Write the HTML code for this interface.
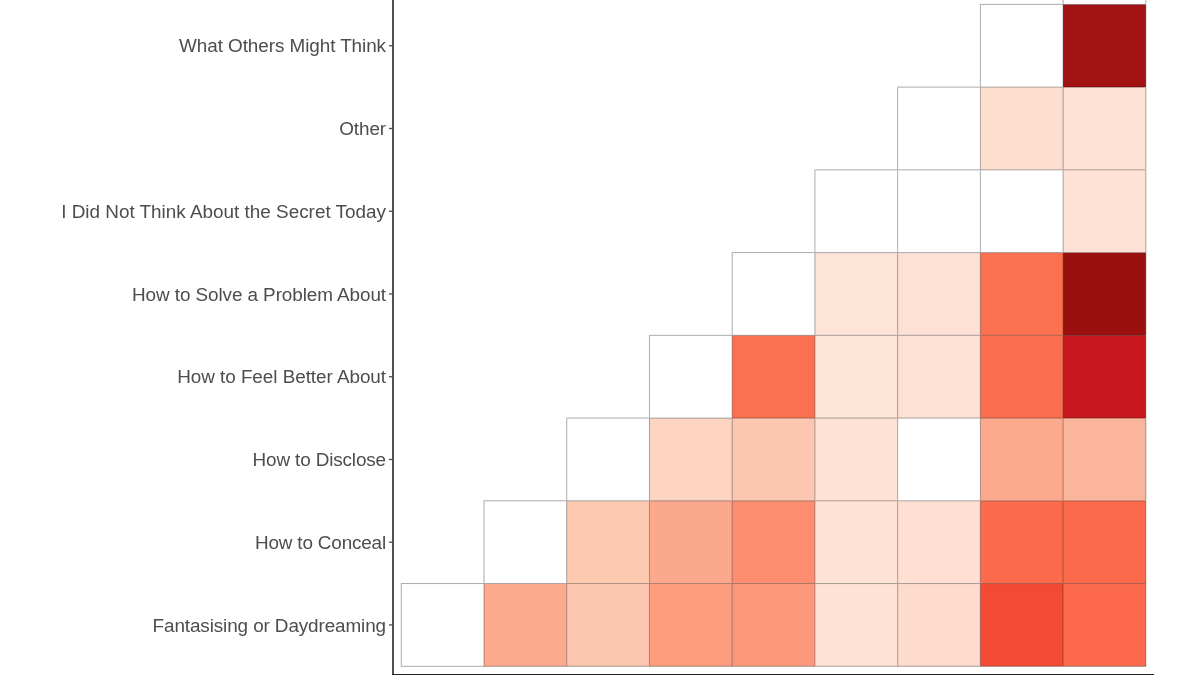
<!DOCTYPE html>
<html><head><meta charset="utf-8"><style>
html,body{margin:0;padding:0;background:#fff;}
body{width:1200px;height:675px;overflow:hidden;position:relative;font-family:"Liberation Sans",sans-serif;}
svg{position:absolute;left:0;top:0;will-change:transform;}
</style></head><body>
<svg width="1200" height="675" viewBox="0 0 1200 675">
<rect x="401.27" y="583.56" width="82.73" height="82.74" fill="#ffffff"/><rect x="484.00" y="583.56" width="82.73" height="82.74" fill="#fca98e"/><rect x="566.73" y="583.56" width="82.73" height="82.74" fill="#fdc6b0"/><rect x="649.46" y="583.56" width="82.73" height="82.74" fill="#fc9d7e"/><rect x="732.19" y="583.56" width="82.73" height="82.74" fill="#fc997a"/><rect x="814.92" y="583.56" width="82.73" height="82.74" fill="#fee2d5"/><rect x="897.65" y="583.56" width="82.73" height="82.74" fill="#fddccb"/><rect x="980.38" y="583.56" width="82.73" height="82.74" fill="#f24a33"/><rect x="1063.11" y="583.56" width="82.73" height="82.74" fill="#fc6a4b"/><rect x="484.00" y="500.82" width="82.73" height="82.74" fill="#ffffff"/><rect x="566.73" y="500.82" width="82.73" height="82.74" fill="#fdcab1"/><rect x="649.46" y="500.82" width="82.73" height="82.74" fill="#fca88c"/><rect x="732.19" y="500.82" width="82.73" height="82.74" fill="#fc8e6f"/><rect x="814.92" y="500.82" width="82.73" height="82.74" fill="#fee2d6"/><rect x="897.65" y="500.82" width="82.73" height="82.74" fill="#fedfd2"/><rect x="980.38" y="500.82" width="82.73" height="82.74" fill="#fb6a4b"/><rect x="1063.11" y="500.82" width="82.73" height="82.74" fill="#fb6a4a"/><rect x="566.73" y="418.08" width="82.73" height="82.74" fill="#ffffff"/><rect x="649.46" y="418.08" width="82.73" height="82.74" fill="#fdd4c2"/><rect x="732.19" y="418.08" width="82.73" height="82.74" fill="#fcc6b0"/><rect x="814.92" y="418.08" width="82.73" height="82.74" fill="#fee2d6"/><rect x="897.65" y="418.08" width="82.73" height="82.74" fill="#ffffff"/><rect x="980.38" y="418.08" width="82.73" height="82.74" fill="#fca98e"/><rect x="1063.11" y="418.08" width="82.73" height="82.74" fill="#fcb59d"/><rect x="649.46" y="335.34" width="82.73" height="82.74" fill="#ffffff"/><rect x="732.19" y="335.34" width="82.73" height="82.74" fill="#fb7150"/><rect x="814.92" y="335.34" width="82.73" height="82.74" fill="#fee3d7"/><rect x="897.65" y="335.34" width="82.73" height="82.74" fill="#fee1d5"/><rect x="980.38" y="335.34" width="82.73" height="82.74" fill="#fb6f4f"/><rect x="1063.11" y="335.34" width="82.73" height="82.74" fill="#c8181d"/><rect x="732.19" y="252.60" width="82.73" height="82.74" fill="#ffffff"/><rect x="814.92" y="252.60" width="82.73" height="82.74" fill="#fee3d7"/><rect x="897.65" y="252.60" width="82.73" height="82.74" fill="#fee1d5"/><rect x="980.38" y="252.60" width="82.73" height="82.74" fill="#fc7250"/><rect x="1063.11" y="252.60" width="82.73" height="82.74" fill="#9a100f"/><rect x="814.92" y="169.86" width="82.73" height="82.74" fill="#ffffff"/><rect x="897.65" y="169.86" width="82.73" height="82.74" fill="#ffffff"/><rect x="980.38" y="169.86" width="82.73" height="82.74" fill="#ffffff"/><rect x="1063.11" y="169.86" width="82.73" height="82.74" fill="#fee2d5"/><rect x="897.65" y="87.12" width="82.73" height="82.74" fill="#ffffff"/><rect x="980.38" y="87.12" width="82.73" height="82.74" fill="#fddfd0"/><rect x="1063.11" y="87.12" width="82.73" height="82.74" fill="#fee2d5"/><rect x="980.38" y="4.38" width="82.73" height="82.74" fill="#ffffff"/><rect x="1063.11" y="4.38" width="82.73" height="82.74" fill="#a11212"/><rect x="1063.11" y="-78.36" width="82.73" height="82.74" fill="#ffffff"/>
<g style="mix-blend-mode:multiply"><line x1="400.77" y1="666.30" x2="484.50" y2="666.30" stroke="#ababab" stroke-width="1.0"/><line x1="483.50" y1="666.30" x2="567.23" y2="666.30" stroke="#ababab" stroke-width="1.0"/><line x1="566.23" y1="666.30" x2="649.96" y2="666.30" stroke="#ababab" stroke-width="1.0"/><line x1="648.96" y1="666.30" x2="732.69" y2="666.30" stroke="#ababab" stroke-width="1.0"/><line x1="731.69" y1="666.30" x2="815.42" y2="666.30" stroke="#ababab" stroke-width="1.0"/><line x1="814.42" y1="666.30" x2="898.15" y2="666.30" stroke="#ababab" stroke-width="1.0"/><line x1="897.15" y1="666.30" x2="980.88" y2="666.30" stroke="#ababab" stroke-width="1.0"/><line x1="979.88" y1="666.30" x2="1063.61" y2="666.30" stroke="#ababab" stroke-width="1.0"/><line x1="1062.61" y1="666.30" x2="1146.34" y2="666.30" stroke="#ababab" stroke-width="1.0"/><line x1="400.77" y1="583.56" x2="484.50" y2="583.56" stroke="#ababab" stroke-width="1.0"/><line x1="483.50" y1="583.56" x2="567.23" y2="583.56" stroke="#ababab" stroke-width="1.0"/><line x1="566.23" y1="583.56" x2="649.96" y2="583.56" stroke="#ababab" stroke-width="1.0"/><line x1="648.96" y1="583.56" x2="732.69" y2="583.56" stroke="#ababab" stroke-width="1.0"/><line x1="731.69" y1="583.56" x2="815.42" y2="583.56" stroke="#ababab" stroke-width="1.0"/><line x1="814.42" y1="583.56" x2="898.15" y2="583.56" stroke="#ababab" stroke-width="1.0"/><line x1="897.15" y1="583.56" x2="980.88" y2="583.56" stroke="#ababab" stroke-width="1.0"/><line x1="979.88" y1="583.56" x2="1063.61" y2="583.56" stroke="#ababab" stroke-width="1.0"/><line x1="1062.61" y1="583.56" x2="1146.34" y2="583.56" stroke="#ababab" stroke-width="1.0"/><line x1="483.50" y1="500.82" x2="567.23" y2="500.82" stroke="#ababab" stroke-width="1.0"/><line x1="566.23" y1="500.82" x2="649.96" y2="500.82" stroke="#ababab" stroke-width="1.0"/><line x1="648.96" y1="500.82" x2="732.69" y2="500.82" stroke="#ababab" stroke-width="1.0"/><line x1="731.69" y1="500.82" x2="815.42" y2="500.82" stroke="#ababab" stroke-width="1.0"/><line x1="814.42" y1="500.82" x2="898.15" y2="500.82" stroke="#ababab" stroke-width="1.0"/><line x1="897.15" y1="500.82" x2="980.88" y2="500.82" stroke="#ababab" stroke-width="1.0"/><line x1="979.88" y1="500.82" x2="1063.61" y2="500.82" stroke="#ababab" stroke-width="1.0"/><line x1="1062.61" y1="500.82" x2="1146.34" y2="500.82" stroke="#ababab" stroke-width="1.0"/><line x1="566.23" y1="418.08" x2="649.96" y2="418.08" stroke="#ababab" stroke-width="1.0"/><line x1="648.96" y1="418.08" x2="732.69" y2="418.08" stroke="#ababab" stroke-width="1.0"/><line x1="731.69" y1="418.08" x2="815.42" y2="418.08" stroke="#ababab" stroke-width="1.0"/><line x1="814.42" y1="418.08" x2="898.15" y2="418.08" stroke="#ababab" stroke-width="1.0"/><line x1="897.15" y1="418.08" x2="980.88" y2="418.08" stroke="#ababab" stroke-width="1.0"/><line x1="979.88" y1="418.08" x2="1063.61" y2="418.08" stroke="#ababab" stroke-width="1.0"/><line x1="1062.61" y1="418.08" x2="1146.34" y2="418.08" stroke="#ababab" stroke-width="1.0"/><line x1="648.96" y1="335.34" x2="732.69" y2="335.34" stroke="#ababab" stroke-width="1.0"/><line x1="731.69" y1="335.34" x2="815.42" y2="335.34" stroke="#ababab" stroke-width="1.0"/><line x1="814.42" y1="335.34" x2="898.15" y2="335.34" stroke="#ababab" stroke-width="1.0"/><line x1="897.15" y1="335.34" x2="980.88" y2="335.34" stroke="#ababab" stroke-width="1.0"/><line x1="979.88" y1="335.34" x2="1063.61" y2="335.34" stroke="#ababab" stroke-width="1.0"/><line x1="1062.61" y1="335.34" x2="1146.34" y2="335.34" stroke="#ababab" stroke-width="1.0"/><line x1="731.69" y1="252.60" x2="815.42" y2="252.60" stroke="#ababab" stroke-width="1.0"/><line x1="814.42" y1="252.60" x2="898.15" y2="252.60" stroke="#ababab" stroke-width="1.0"/><line x1="897.15" y1="252.60" x2="980.88" y2="252.60" stroke="#ababab" stroke-width="1.0"/><line x1="979.88" y1="252.60" x2="1063.61" y2="252.60" stroke="#ababab" stroke-width="1.0"/><line x1="1062.61" y1="252.60" x2="1146.34" y2="252.60" stroke="#ababab" stroke-width="1.0"/><line x1="814.42" y1="169.86" x2="898.15" y2="169.86" stroke="#ababab" stroke-width="1.0"/><line x1="897.15" y1="169.86" x2="980.88" y2="169.86" stroke="#ababab" stroke-width="1.0"/><line x1="979.88" y1="169.86" x2="1063.61" y2="169.86" stroke="#ababab" stroke-width="1.0"/><line x1="1062.61" y1="169.86" x2="1146.34" y2="169.86" stroke="#ababab" stroke-width="1.0"/><line x1="897.15" y1="87.12" x2="980.88" y2="87.12" stroke="#ababab" stroke-width="1.0"/><line x1="979.88" y1="87.12" x2="1063.61" y2="87.12" stroke="#ababab" stroke-width="1.0"/><line x1="1062.61" y1="87.12" x2="1146.34" y2="87.12" stroke="#ababab" stroke-width="1.0"/><line x1="979.88" y1="4.38" x2="1063.61" y2="4.38" stroke="#ababab" stroke-width="1.0"/><line x1="1062.61" y1="4.38" x2="1146.34" y2="4.38" stroke="#ababab" stroke-width="1.0"/><line x1="1062.61" y1="-78.36" x2="1146.34" y2="-78.36" stroke="#ababab" stroke-width="1.0"/><line x1="401.27" y1="584.06" x2="401.27" y2="665.80" stroke="#ababab" stroke-width="1.0"/><line x1="484.00" y1="584.06" x2="484.00" y2="665.80" stroke="#ababab" stroke-width="1.0"/><line x1="484.00" y1="501.32" x2="484.00" y2="583.06" stroke="#ababab" stroke-width="1.0"/><line x1="566.73" y1="584.06" x2="566.73" y2="665.80" stroke="#ababab" stroke-width="1.0"/><line x1="566.73" y1="501.32" x2="566.73" y2="583.06" stroke="#ababab" stroke-width="1.0"/><line x1="566.73" y1="418.58" x2="566.73" y2="500.32" stroke="#ababab" stroke-width="1.0"/><line x1="649.46" y1="584.06" x2="649.46" y2="665.80" stroke="#ababab" stroke-width="1.0"/><line x1="649.46" y1="501.32" x2="649.46" y2="583.06" stroke="#ababab" stroke-width="1.0"/><line x1="649.46" y1="418.58" x2="649.46" y2="500.32" stroke="#ababab" stroke-width="1.0"/><line x1="649.46" y1="335.84" x2="649.46" y2="417.58" stroke="#ababab" stroke-width="1.0"/><line x1="732.19" y1="584.06" x2="732.19" y2="665.80" stroke="#ababab" stroke-width="1.0"/><line x1="732.19" y1="501.32" x2="732.19" y2="583.06" stroke="#ababab" stroke-width="1.0"/><line x1="732.19" y1="418.58" x2="732.19" y2="500.32" stroke="#ababab" stroke-width="1.0"/><line x1="732.19" y1="335.84" x2="732.19" y2="417.58" stroke="#ababab" stroke-width="1.0"/><line x1="732.19" y1="253.10" x2="732.19" y2="334.84" stroke="#ababab" stroke-width="1.0"/><line x1="814.92" y1="584.06" x2="814.92" y2="665.80" stroke="#ababab" stroke-width="1.0"/><line x1="814.92" y1="501.32" x2="814.92" y2="583.06" stroke="#ababab" stroke-width="1.0"/><line x1="814.92" y1="418.58" x2="814.92" y2="500.32" stroke="#ababab" stroke-width="1.0"/><line x1="814.92" y1="335.84" x2="814.92" y2="417.58" stroke="#ababab" stroke-width="1.0"/><line x1="814.92" y1="253.10" x2="814.92" y2="334.84" stroke="#ababab" stroke-width="1.0"/><line x1="814.92" y1="170.36" x2="814.92" y2="252.10" stroke="#ababab" stroke-width="1.0"/><line x1="897.65" y1="584.06" x2="897.65" y2="665.80" stroke="#ababab" stroke-width="1.0"/><line x1="897.65" y1="501.32" x2="897.65" y2="583.06" stroke="#ababab" stroke-width="1.0"/><line x1="897.65" y1="418.58" x2="897.65" y2="500.32" stroke="#ababab" stroke-width="1.0"/><line x1="897.65" y1="335.84" x2="897.65" y2="417.58" stroke="#ababab" stroke-width="1.0"/><line x1="897.65" y1="253.10" x2="897.65" y2="334.84" stroke="#ababab" stroke-width="1.0"/><line x1="897.65" y1="170.36" x2="897.65" y2="252.10" stroke="#ababab" stroke-width="1.0"/><line x1="897.65" y1="87.62" x2="897.65" y2="169.36" stroke="#ababab" stroke-width="1.0"/><line x1="980.38" y1="584.06" x2="980.38" y2="665.80" stroke="#ababab" stroke-width="1.0"/><line x1="980.38" y1="501.32" x2="980.38" y2="583.06" stroke="#ababab" stroke-width="1.0"/><line x1="980.38" y1="418.58" x2="980.38" y2="500.32" stroke="#ababab" stroke-width="1.0"/><line x1="980.38" y1="335.84" x2="980.38" y2="417.58" stroke="#ababab" stroke-width="1.0"/><line x1="980.38" y1="253.10" x2="980.38" y2="334.84" stroke="#ababab" stroke-width="1.0"/><line x1="980.38" y1="170.36" x2="980.38" y2="252.10" stroke="#ababab" stroke-width="1.0"/><line x1="980.38" y1="87.62" x2="980.38" y2="169.36" stroke="#ababab" stroke-width="1.0"/><line x1="980.38" y1="4.88" x2="980.38" y2="86.62" stroke="#ababab" stroke-width="1.0"/><line x1="1063.11" y1="584.06" x2="1063.11" y2="665.80" stroke="#ababab" stroke-width="1.0"/><line x1="1063.11" y1="501.32" x2="1063.11" y2="583.06" stroke="#ababab" stroke-width="1.0"/><line x1="1063.11" y1="418.58" x2="1063.11" y2="500.32" stroke="#ababab" stroke-width="1.0"/><line x1="1063.11" y1="335.84" x2="1063.11" y2="417.58" stroke="#ababab" stroke-width="1.0"/><line x1="1063.11" y1="253.10" x2="1063.11" y2="334.84" stroke="#ababab" stroke-width="1.0"/><line x1="1063.11" y1="170.36" x2="1063.11" y2="252.10" stroke="#ababab" stroke-width="1.0"/><line x1="1063.11" y1="87.62" x2="1063.11" y2="169.36" stroke="#ababab" stroke-width="1.0"/><line x1="1063.11" y1="4.88" x2="1063.11" y2="86.62" stroke="#ababab" stroke-width="1.0"/><line x1="1063.11" y1="-77.86" x2="1063.11" y2="3.88" stroke="#ababab" stroke-width="1.0"/><line x1="1145.84" y1="584.06" x2="1145.84" y2="665.80" stroke="#ababab" stroke-width="1.0"/><line x1="1145.84" y1="501.32" x2="1145.84" y2="583.06" stroke="#ababab" stroke-width="1.0"/><line x1="1145.84" y1="418.58" x2="1145.84" y2="500.32" stroke="#ababab" stroke-width="1.0"/><line x1="1145.84" y1="335.84" x2="1145.84" y2="417.58" stroke="#ababab" stroke-width="1.0"/><line x1="1145.84" y1="253.10" x2="1145.84" y2="334.84" stroke="#ababab" stroke-width="1.0"/><line x1="1145.84" y1="170.36" x2="1145.84" y2="252.10" stroke="#ababab" stroke-width="1.0"/><line x1="1145.84" y1="87.62" x2="1145.84" y2="169.36" stroke="#ababab" stroke-width="1.0"/><line x1="1145.84" y1="4.88" x2="1145.84" y2="86.62" stroke="#ababab" stroke-width="1.0"/><line x1="1145.84" y1="-77.86" x2="1145.84" y2="3.88" stroke="#ababab" stroke-width="1.0"/></g>
<rect x="392" y="0" width="2" height="675" fill="#505050"/>
<rect x="392" y="674" width="762" height="1" fill="#222"/>
<line x1="389" y1="624.93" x2="393" y2="624.93" stroke="#4d4d4d" stroke-width="1.3"/><line x1="389" y1="542.19" x2="393" y2="542.19" stroke="#4d4d4d" stroke-width="1.3"/><line x1="389" y1="459.45" x2="393" y2="459.45" stroke="#4d4d4d" stroke-width="1.3"/><line x1="389" y1="376.71" x2="393" y2="376.71" stroke="#4d4d4d" stroke-width="1.3"/><line x1="389" y1="293.97" x2="393" y2="293.97" stroke="#4d4d4d" stroke-width="1.3"/><line x1="389" y1="211.23" x2="393" y2="211.23" stroke="#4d4d4d" stroke-width="1.3"/><line x1="389" y1="128.49" x2="393" y2="128.49" stroke="#4d4d4d" stroke-width="1.3"/><line x1="389" y1="45.75" x2="393" y2="45.75" stroke="#4d4d4d" stroke-width="1.3"/>
<g font-family="'Liberation Sans', sans-serif" font-size="18.9" fill="#4d4d4d"><text x="386.0" y="632.00" text-anchor="end" letter-spacing="-0.11">Fantasising or Daydreaming</text><text x="386.0" y="548.90" text-anchor="end" letter-spacing="-0.17">How to Conceal</text><text x="386.0" y="465.90" text-anchor="end" letter-spacing="-0.13">How to Disclose</text><text x="386.0" y="382.90" text-anchor="end" letter-spacing="-0.05">How to Feel Better About</text><text x="386.0" y="301.10" text-anchor="end" letter-spacing="-0.08">How to Solve a Problem About</text><text x="386.0" y="218.00" text-anchor="end" letter-spacing="0">I Did Not Think About the Secret Today</text><text x="386.0" y="134.60" text-anchor="end" letter-spacing="-0.1">Other</text><text x="386.0" y="51.90" text-anchor="end" letter-spacing="-0.07">What Others Might Think</text></g>
</svg>
</body></html>
